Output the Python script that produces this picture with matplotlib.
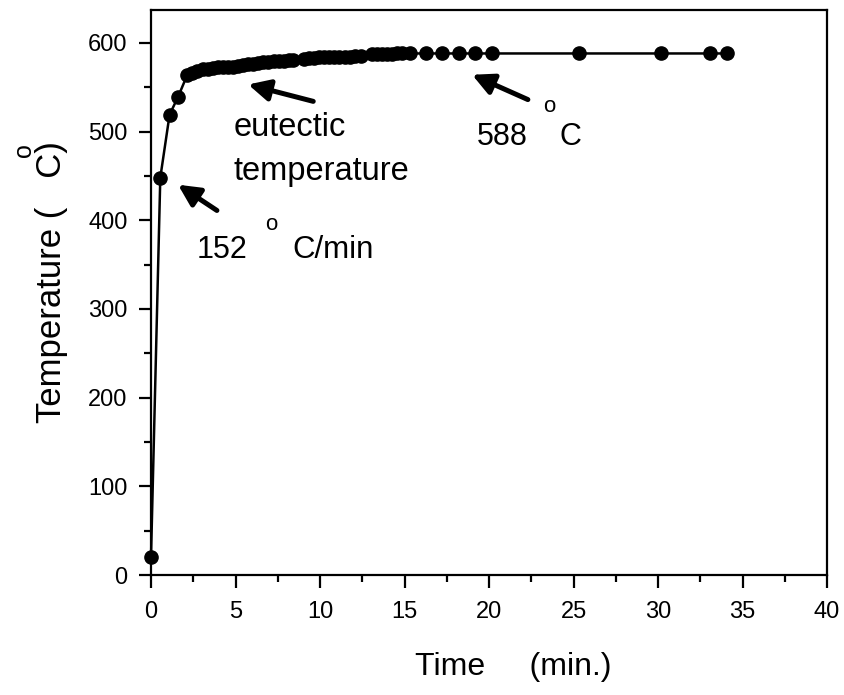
import matplotlib
matplotlib.use("Agg")
import matplotlib.pyplot as plt
from matplotlib.ticker import MultipleLocator

plt.rcParams['font.family'] = ['Liberation Sans', 'DejaVu Sans']

# heating curve
time_min = [0.0, 0.55, 1.1, 1.6, 2.15, 2.45, 2.75, 3.05, 3.35, 3.65,
            3.95, 4.25, 4.55, 4.85, 5.15, 5.45, 5.75, 6.05, 6.35, 6.65,
            6.95, 7.25, 7.55, 7.85, 8.15, 8.4,
            9.05, 9.35, 9.65, 9.95, 10.25, 10.55, 10.85, 11.15, 11.45, 11.75, 12.05, 12.4,
            13.05, 13.35, 13.65, 13.95, 14.25, 14.55, 14.85, 15.3,
            16.3, 17.2, 18.2, 19.2, 20.2, 25.3, 30.2, 33.1, 34.1]
temp_c = [20, 448, 519, 539, 564, 566, 568, 570, 571, 572,
          573, 573, 573, 573, 574, 575, 576, 576, 577, 578,
          578, 579, 580, 580, 581, 581,
          582, 583, 583, 584, 584, 584, 584, 584, 584, 584, 585, 585,
          587, 587, 587, 587, 587, 588, 588, 588,
          588, 588, 588, 588, 588, 588, 588, 588, 588]

x_ticks = [0, 5, 10, 15, 20, 25, 30, 35, 40]
y_ticks = [0, 100, 200, 300, 400, 500, 600]

fig = plt.figure(figsize=(8.45, 6.95), dpi=100)
ax = fig.add_axes([151 / 845, 1 - 575 / 695, 676 / 845, 565 / 695])

ax.plot(time_min, temp_c, color='black', lw=1.8, marker='o', ms=9.5,
        mfc='black', mec='black', clip_on=False, zorder=3)

ax.set_xlim(0, 40)
ax.set_ylim(0, 637)
ax.set_xticks(x_ticks)
ax.set_yticks(y_ticks)
ax.xaxis.set_minor_locator(MultipleLocator(2.5))
ax.yaxis.set_minor_locator(MultipleLocator(50))
ax.tick_params(which='major', direction='out', length=9, width=1.6)
ax.tick_params(which='minor', direction='out', length=5, width=1.6)
ax.tick_params(axis='x', labelsize=17, pad=10)
ax.tick_params(axis='y', labelsize=17, pad=8)
for s in ax.spines.values():
    s.set_linewidth(1.6)

arrow = dict(arrowstyle='-|>', lw=3.6, color='black', mutation_scale=32,
             shrinkA=0, shrinkB=0)
ax.annotate('', xy=(1.6, 440), xytext=(3.9, 411), arrowprops=arrow)
ax.annotate('', xy=(5.75, 553), xytext=(9.6, 534), arrowprops=arrow)
ax.annotate('', xy=(19.0, 564), xytext=(22.3, 536), arrowprops=arrow)

# annotation texts, the degree sign is a raised "o" as in the original
ax.text(2.7, 357, '152', fontsize=22, va='baseline')
ax.text(6.75, 389, 'o', fontsize=16, va='baseline')
ax.text(8.34, 357, 'C/min', fontsize=22.5, va='baseline')
ax.text(4.87, 495, 'eutectic', fontsize=23.5, va='baseline')
ax.text(4.87, 445, 'temperature', fontsize=23.5, va='baseline')
ax.text(19.27, 485, '588', fontsize=22, va='baseline')
ax.text(23.2, 522, 'o', fontsize=16, va='baseline')
ax.text(24.2, 485, 'C', fontsize=22, va='baseline')

fig.text(513 / 845, 1 - 667 / 695, 'Time     (min.)', fontsize=23,
         ha='center', va='center')
fig.text(52 / 845, 1 - 282 / 695, 'Temperature (   C)',
         fontsize=25, rotation=90, ha='center', va='center')
fig.text(24 / 845, 1 - 150 / 695, 'o', fontsize=18, rotation=90,
         ha='center', va='center')

fig.savefig('out.png', dpi=100)
